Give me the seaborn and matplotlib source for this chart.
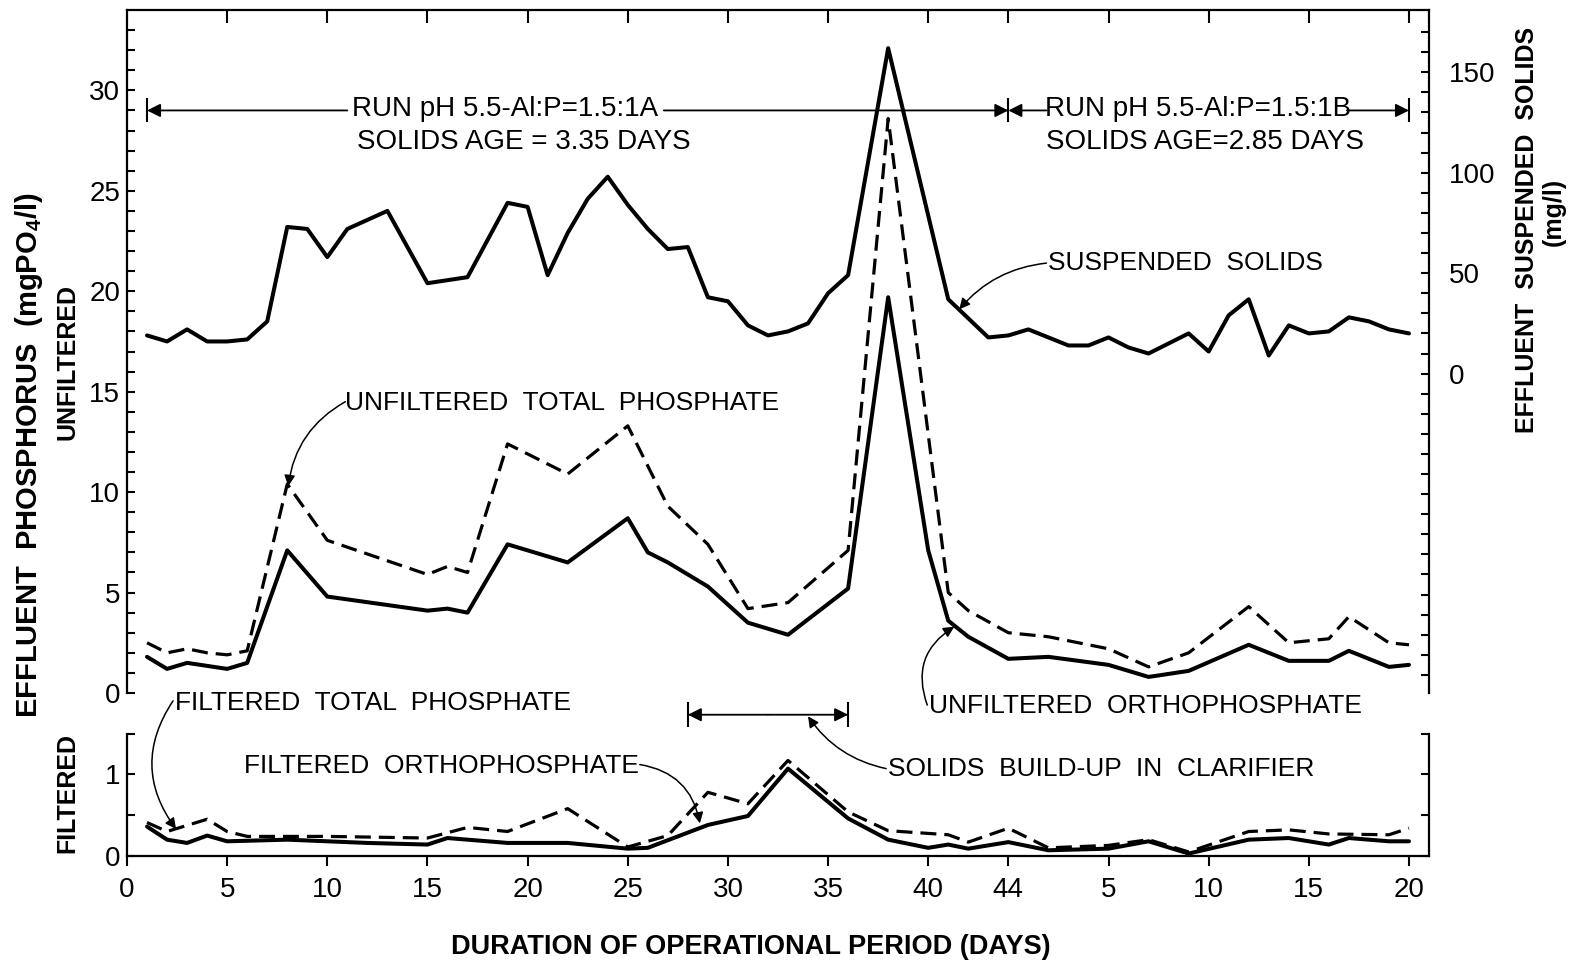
import numpy as np
import matplotlib
matplotlib.use("Agg")
import matplotlib.pyplot as plt
import seaborn as sns

# day of operation: run A = days 1-44, run B carries on as 45-64 (labelled 5..20)
ss_days = [1, 2, 3, 4, 5, 6, 7, 8, 9, 10, 11, 13, 15, 17, 19, 20, 21, 22, 23, 24, 25, 26, 27,
           28, 29, 30, 31, 32, 33, 34, 35, 36, 38, 41, 43, 44, 45, 47, 48, 49, 50, 51, 53, 54,
           55, 56, 57, 58, 59, 60, 61, 62, 63, 64]
ss_mgl = [19, 16, 22, 16, 16, 17, 26, 73, 72, 58, 72, 81, 45, 48, 85, 83, 49, 70, 87, 98, 84, 72, 62,
          63, 38, 36, 24, 19, 21, 25, 40, 49, 162, 37, 18, 19, 22, 14, 14, 18, 13, 10, 20, 11,
          29, 37, 9, 24, 20, 21, 28, 26, 22, 20]

# unfiltered total phosphate (dashed) and orthophosphate (solid), mg PO4/l
ut_days = [1, 2, 3, 4, 5, 6, 8, 10, 15, 16, 17, 19, 22, 25, 27, 29, 31, 33, 36, 38, 41, 42, 44,
           46, 49, 51, 53, 56, 58, 60, 61, 63, 64]
ut_p = [2.5, 2.0, 2.2, 2.0, 1.9, 2.1, 10.4, 7.6, 5.9, 6.3, 6.0, 12.4, 10.9, 13.3, 9.3, 7.4, 4.2,
        4.5, 7.1, 28.6, 5.0, 4.1, 3.0, 2.8, 2.2, 1.3, 2.0, 4.3, 2.5, 2.7, 3.8, 2.5, 2.4]
uo_days = [1, 2, 3, 5, 6, 8, 10, 15, 16, 17, 19, 22, 25, 26, 27, 29, 31, 33, 36, 38, 40, 41, 42,
           44, 46, 49, 51, 53, 56, 58, 60, 61, 63, 64]
uo_p = [1.8, 1.2, 1.5, 1.2, 1.5, 7.1, 4.8, 4.1, 4.2, 4.0, 7.4, 6.5, 8.7, 7.0, 6.5, 5.3, 3.5, 2.9,
        5.2, 19.7, 7.1, 3.6, 2.8, 1.7, 1.8, 1.4, 0.8, 1.1, 2.4, 1.6, 1.6, 2.1, 1.3, 1.4]

# filtered total phosphate (dashed) and orthophosphate (solid)
ft_days = [1, 2, 4, 5, 6, 10, 15, 17, 19, 22, 25, 27, 29, 31, 33, 36, 38, 41, 42, 44, 46, 49, 51,
           53, 56, 58, 60, 63, 64]
ft_p = [0.41, 0.30, 0.45, 0.30, 0.24, 0.24, 0.22, 0.35, 0.30, 0.58, 0.11, 0.25, 0.78, 0.64, 1.17,
        0.54, 0.31, 0.26, 0.17, 0.34, 0.10, 0.13, 0.20, 0.05, 0.30, 0.32, 0.27, 0.26, 0.34]
fo_days = [1, 2, 3, 4, 5, 8, 10, 12, 15, 16, 19, 22, 25, 26, 29, 31, 33, 36, 38, 40, 41, 42, 44,
           46, 49, 51, 53, 56, 58, 60, 61, 63, 64]
fo_p = [0.36, 0.20, 0.16, 0.25, 0.18, 0.20, 0.18, 0.16, 0.14, 0.22, 0.16, 0.16, 0.09, 0.10, 0.38,
        0.49, 1.07, 0.46, 0.20, 0.10, 0.14, 0.09, 0.17, 0.07, 0.09, 0.18, 0.03, 0.20, 0.22, 0.14,
        0.22, 0.18, 0.18]

tick_pos = [0, 5, 10, 15, 20, 25, 30, 35, 40, 44, 49, 54, 59, 64]
tick_lab = ["0", "5", "10", "15", "20", "25", "30", "35", "40", "44", "5", "10", "15", "20"]

sns.set_style("ticks", {"axes.edgecolor": "black", "xtick.color": "black",
                        "ytick.color": "black", "text.color": "black"})
plt.rcParams["font.family"] = ["Liberation Sans", "DejaVu Sans"]
plt.rcParams["mathtext.default"] = "regular"

W, H = 1576, 963
fig = plt.figure(figsize=(W / 100, H / 100), dpi=100)
ax = fig.add_axes([127 / W, 1 - 693 / H, 1302 / W, 683 / H])
axr = ax.twinx()
axf = fig.add_axes([127 / W, 1 - 856 / H, 1302 / W, 122.5 / H])

dash = (0, (5, 2.5))
sns.lineplot(x=ss_days, y=ss_mgl, ax=axr, color="k", lw=2.9, errorbar=None)
sns.lineplot(x=ut_days, y=ut_p, ax=ax, color="k", lw=2.3, linestyle=dash, errorbar=None)
sns.lineplot(x=uo_days, y=uo_p, ax=ax, color="k", lw=2.9, errorbar=None)
sns.lineplot(x=ft_days, y=ft_p, ax=axf, color="k", lw=2.3, linestyle=dash, errorbar=None)
sns.lineplot(x=fo_days, y=fo_p, ax=axf, color="k", lw=2.9, errorbar=None)

# upper panel axes
for a in (ax, axr, axf):
    a.set_xlim(0, 65)
    for s in a.spines.values():
        s.set_linewidth(1.6)
ax.set_ylim(0, 34)
axr.set_ylim(-159, 181)
ax.spines["bottom"].set_visible(False)
ax.spines["right"].set_visible(False)
for s in ("left", "top", "bottom"):
    axr.spines[s].set_visible(False)

ax.xaxis.set_ticks_position("top")
ax.set_xticks(tick_pos[1:])
ax.tick_params(axis="x", direction="in", length=9, width=1.5, labeltop=False, labelbottom=False)
ax.set_yticks(range(0, 31, 5))
ax.set_yticks(range(0, 34), minor=True)
ax.tick_params(axis="y", which="both", direction="in", length=6, width=1.5, labelsize=20, pad=5)

axr.set_yticks([0, 50, 100, 150])
axr.set_yticks(np.arange(-150, 171, 10), minor=True)
axr.tick_params(axis="y", which="both", direction="in", length=6, width=1.5, labelsize=20, pad=14)
ax.set_xlabel("")
ax.set_ylabel("")
axr.set_ylabel("")

# lower (filtered) panel
axf.set_ylim(0, 1.5)
axf.spines["top"].set_visible(False)
axf.set_yticks([0, 0.5, 1, 1.5])
axf.set_yticklabels(["0", "", "1", ""])
axf.tick_params(axis="y", which="both", direction="in", length=6, width=1.5, labelsize=20,
                pad=5, right=True)
axf.set_xticks(tick_pos)
axf.set_xticklabels(tick_lab)
axf.tick_params(axis="x", direction="out", length=7, width=1.5, labelsize=20, pad=8)
axf.set_xlabel("")
axf.set_ylabel("")

# run brackets
arr = dict(arrowstyle="-|>", color="k", lw=1.3, shrinkA=0, shrinkB=0, mutation_scale=20)
ax.vlines([1, 44, 64], 28.4, 29.6, color="k", lw=1.5)
ax.annotate("", xy=(1, 29), xytext=(11.0, 29), arrowprops=arr)
ax.annotate("", xy=(44, 29), xytext=(26.8, 29), arrowprops=arr)
ax.annotate("", xy=(44, 29), xytext=(45.9, 29), arrowprops=arr)
ax.annotate("", xy=(64, 29), xytext=(60.9, 29), arrowprops=arr)
ax.text(18.85, 29.05, "RUN pH 5.5-Al:P=1.5:1A", ha="center", va="center", fontsize=20)
ax.text(19.8, 27.45, "SOLIDS AGE = 3.35 DAYS", ha="center", va="center", fontsize=20)
ax.text(53.45, 29.05, "RUN pH 5.5-Al:P=1.5:1B", ha="center", va="center", fontsize=20)
ax.text(53.8, 27.45, "SOLIDS AGE=2.85 DAYS", ha="center", va="center", fontsize=20)

# curve labels
lab = dict(color="k", lw=1.1, shrinkA=0, shrinkB=0, mutation_scale=16, arrowstyle="-|>")
ax.text(46.0, 21.4, "SUSPENDED  SOLIDS", ha="left", va="center", fontsize=19)
ax.annotate("", xy=(41.55, 19.1), xytext=(45.9, 21.4),
            arrowprops=dict(lab, connectionstyle="arc3,rad=0.2"))
ax.text(10.9, 14.45, "UNFILTERED  TOTAL  PHOSPHATE", ha="left", va="center", fontsize=19)
ax.annotate("", xy=(8.05, 10.3), xytext=(10.9, 14.5),
            arrowprops=dict(lab, connectionstyle="arc3,rad=0.25"))
ax.text(40.05, -0.67, "UNFILTERED  ORTHOPHOSPHATE", ha="left", va="center", fontsize=19)
ax.annotate("", xy=(41.3, 3.3), xytext=(39.95, -0.6),
            arrowprops=dict(lab, connectionstyle="arc3,rad=-0.4"), annotation_clip=False)

axf.text(2.42, 1.87, "FILTERED  TOTAL  PHOSPHATE", ha="left", va="center", fontsize=19)
axf.annotate("", xy=(2.45, 0.33), xytext=(2.3, 1.9),
             arrowprops=dict(lab, connectionstyle="arc3,rad=0.35"), annotation_clip=False)
axf.text(25.55, 1.10, "FILTERED  ORTHOPHOSPHATE", ha="right", va="center", fontsize=19)
axf.annotate("", xy=(28.6, 0.40), xytext=(25.6, 1.12),
             arrowprops=dict(lab, connectionstyle="arc3,rad=-0.35"), annotation_clip=False)
axf.text(38.0, 1.065, "SOLIDS  BUILD-UP  IN  CLARIFIER", ha="left", va="center", fontsize=19)
axf.annotate("", xy=(34.0, 1.71), xytext=(37.9, 1.07),
             arrowprops=dict(lab, connectionstyle="arc3,rad=-0.2"), annotation_clip=False)
axf.vlines([28, 36], 1.58, 1.88, color="k", lw=1.5, clip_on=False)
axf.annotate("", xy=(28, 1.73), xytext=(32, 1.73), arrowprops=arr, annotation_clip=False)
axf.annotate("", xy=(36, 1.73), xytext=(32, 1.73), arrowprops=arr, annotation_clip=False)

# axis titles
fig.text(29 / W, 1 - 455 / H, "EFFLUENT  PHOSPHORUS  (mgPO$_4$/l)", rotation=90,
         ha="center", va="center", fontsize=21, fontweight="bold")
fig.text(67 / W, 1 - 362 / H, "UNFILTERED", rotation=90, ha="center", va="center",
         fontsize=18, fontweight="bold")
fig.text(67 / W, 1 - 793 / H, "FILTERED", rotation=90, ha="center", va="center",
         fontsize=18, fontweight="bold")
fig.text(1527 / W, 1 - 230 / H, "EFFLUENT  SUSPENDED  SOLIDS", rotation=90, ha="center",
         va="center", fontsize=18, fontweight="bold")
fig.text(1554 / W, 1 - 212 / H, "(mg/l)", rotation=90, ha="center", va="center",
         fontsize=18, fontweight="bold")
fig.text(751 / W, 1 - 947 / H, "DURATION OF OPERATIONAL PERIOD (DAYS)", ha="center",
         va="center", fontsize=19.5, fontweight="bold")

fig.savefig("out.png", dpi=100)
